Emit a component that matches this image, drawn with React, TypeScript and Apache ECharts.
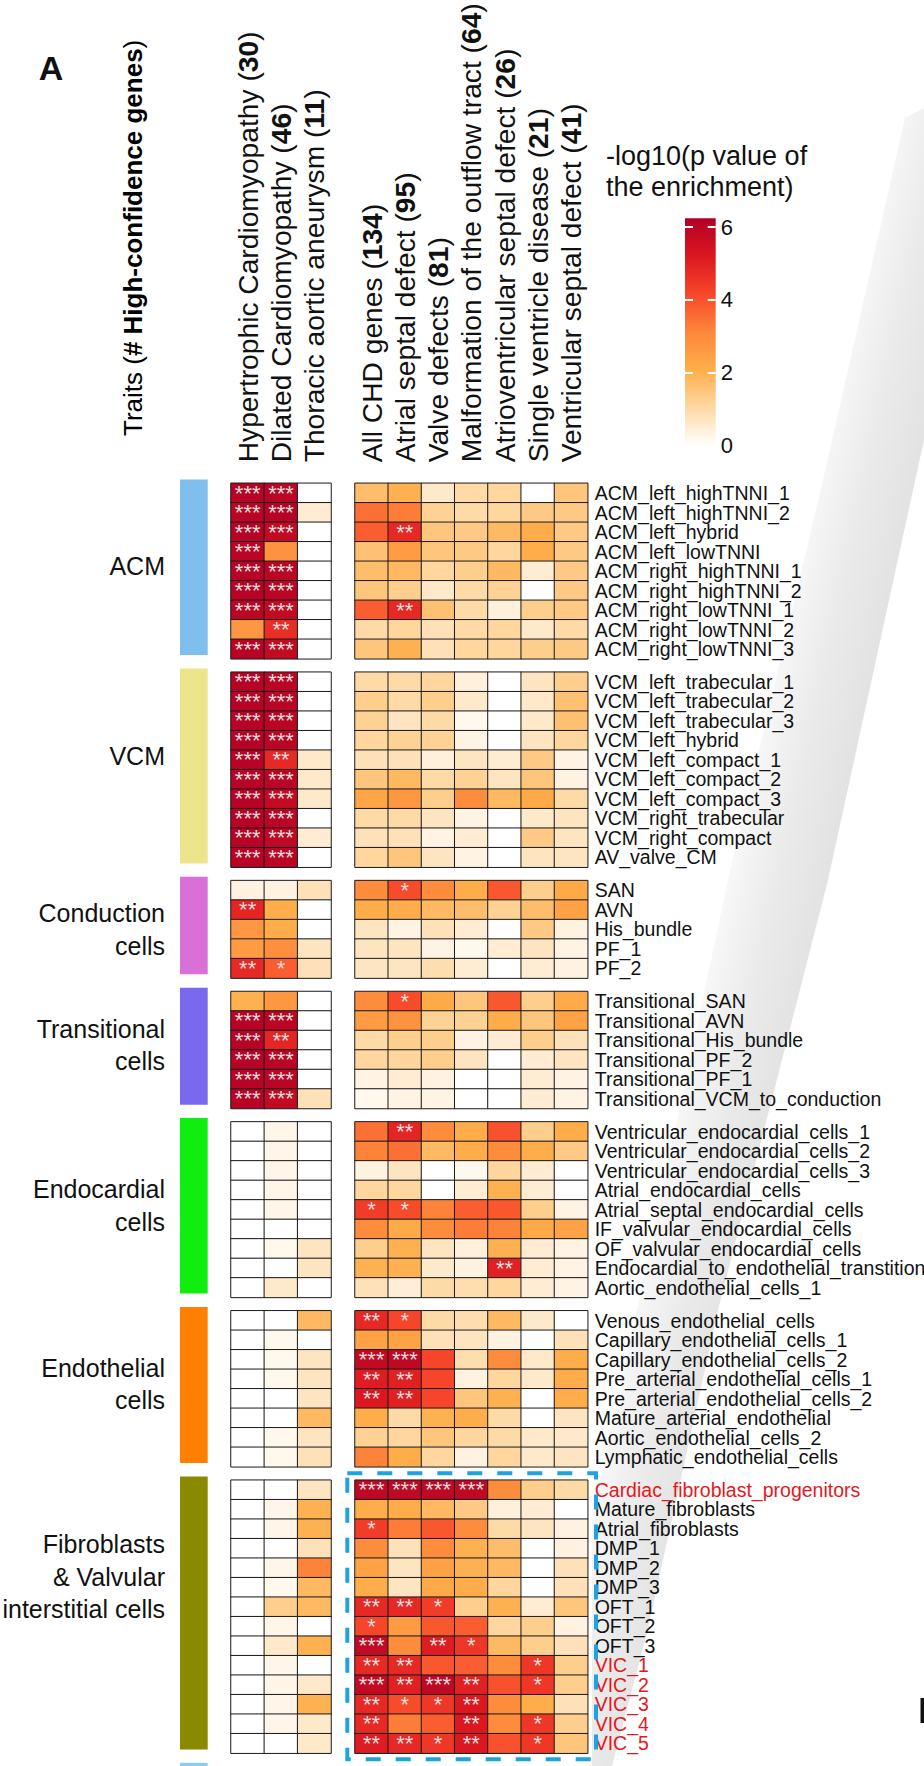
import React, { useEffect, useRef } from 'react';
import * as echarts from 'echarts';

const FONT = '"Liberation Sans", Arial, Helvetica, sans-serif';
const RED = '#e3191c';

// Column traits with number of high-confidence genes
const leftTraits = ['Hypertrophic Cardiomyopathy', 'Dilated Cardiomyopathy', 'Thoracic aortic aneurysm'];
const leftGeneCounts = [30, 46, 11];
const rightTraits = [
  'All CHD genes',
  'Atrial septal defect',
  'Valve defects',
  'Malformation of the outflow tract',
  'Atrioventricular septal defect',
  'Single ventricle disease',
  'Ventricular septal defect',
];
const rightGeneCounts = [134, 95, 81, 64, 26, 21, 41];

// Colour scale of -log10(p)
const scaleMax = 6.24;
const scaleTicks = [0, 2, 4, 6];
const palette = ['#ffffff', '#fed8a3', '#feae4a', '#fd873b', '#f7472a', '#dc1720', '#b10026'];

// Values per row: 3 left traits then 7 CHD traits. Stars: significance per column.
const acmRows = [
  'ACM_left_highTNNI_1', 'ACM_left_highTNNI_2', 'ACM_left_hybrid', 'ACM_left_lowTNNI',
  'ACM_right_highTNNI_1', 'ACM_right_highTNNI_2', 'ACM_right_lowTNNI_1', 'ACM_right_lowTNNI_2', 'ACM_right_lowTNNI_3',
];
const acmValues = [
  [6.1, 6.0, 0, 1.7, 2.0, 0.6, 1.0, 1.1, 0, 1.5],
  [6.0, 6.1, 0.5, 3.5, 3.3, 1.2, 1.0, 1.1, 1.4, 1.4],
  [6.1, 5.8, 0, 3.8, 4.8, 1.5, 1.4, 1.8, 2.1, 1.4],
  [6.0, 2.8, 0, 1.6, 2.6, 1.5, 1.4, 1.1, 2.1, 1.4],
  [6.1, 6.0, 0, 1.7, 1.8, 1.1, 1.3, 1.8, 0.5, 1.4],
  [6.1, 6.0, 0, 1.5, 1.3, 0.6, 1.0, 1.2, 0, 1.4],
  [6.0, 5.8, 0, 3.8, 4.8, 1.6, 1.0, 0.4, 1.3, 1.4],
  [2.7, 4.7, 0, 1.0, 1.1, 0.8, 1.0, 1.1, 0.6, 1.0],
  [6.1, 5.8, 0, 1.5, 2.0, 0.8, 1.1, 1.1, 1.3, 1.4],
];
const acmStars = ['3300000000', '3300000000', '3300200000', '3000000000', '3300000000', '3300000000', '3300200000', '0200000000', '3300000000'];

const vcmRows = [
  'VCM_left_trabecular_1', 'VCM_left_trabecular_2', 'VCM_left_trabecular_3', 'VCM_left_hybrid',
  'VCM_left_compact_1', 'VCM_left_compact_2', 'VCM_left_compact_3', 'VCM_right_trabecular', 'VCM_right_compact', 'AV_valve_CM',
];
const vcmValues = [
  [6.1, 6.0, 0, 1.0, 1.0, 1.1, 0.4, 0, 0.7, 1.3],
  [6.1, 6.0, 0, 1.3, 1.0, 1.3, 0.6, 0, 0.6, 1.6],
  [6.1, 6.0, 0, 1.2, 0.7, 1.0, 0.2, 0, 0.6, 1.6],
  [6.1, 6.0, 0, 1.1, 1.2, 1.2, 0.3, 0, 0.7, 1.1],
  [6.1, 4.8, 0.6, 0.8, 0.8, 0.4, 0.7, 0.5, 1.4, 0.3],
  [6.1, 6.0, 0.6, 1.5, 1.8, 1.0, 1.2, 0.7, 1.5, 0.35],
  [6.1, 5.8, 0.6, 2.3, 2.7, 1.3, 3.0, 1.8, 2.2, 1.0],
  [6.1, 6.0, 0, 1.0, 1.0, 0.7, 0.3, 0, 0.6, 0.7],
  [6.1, 5.9, 0.5, 0.8, 0.8, 0.3, 0.5, 0, 1.4, 0.7],
  [6.1, 6.0, 0, 1.1, 1.5, 0.7, 0.3, 0, 0.7, 0.7],
];
const vcmStars = ['3300000000', '3300000000', '3300000000', '3300000000', '3200000000', '3300000000', '3300000000', '3300000000', '3300000000', '3300000000'];

const conductionRows = ['SAN', 'AVN', 'His_bundle', 'PF_1', 'PF_2'];
const conductionValues = [
  [0.35, 0.35, 0.8, 3.0, 4.1, 3.0, 2.1, 3.9, 1.3, 2.2],
  [4.9, 2.1, 0, 2.1, 2.1, 1.8, 1.7, 1.2, 1.7, 2.4],
  [2.7, 2.1, 0, 0.7, 0.3, 0.8, 0.5, 0, 1.4, 0.35],
  [2.6, 2.9, 0.7, 0.7, 0.7, 0.3, 0.2, 0.5, 0.7, 0.3],
  [4.8, 3.8, 0.8, 0.7, 0.7, 0.9, 0.5, 0, 0.5, 0.35],
];
const conductionStars = ['0000100000', '2000000000', '0000000000', '0000000000', '2100000000'];

const transitionalRows = [
  'Transitional_SAN', 'Transitional_AVN', 'Transitional_His_bundle', 'Transitional_PF_2', 'Transitional_PF_1', 'Transitional_VCM_to_conduction',
];
const transitionalValues = [
  [2.0, 2.7, 0, 3.0, 4.1, 2.2, 1.5, 3.9, 1.3, 2.2],
  [6.1, 6.0, 0, 2.6, 2.8, 1.2, 1.2, 2.1, 1.5, 2.4],
  [6.1, 4.9, 0, 1.0, 1.3, 1.3, 0.3, 0.5, 1.3, 0.8],
  [6.1, 6.0, 0, 1.1, 1.1, 1.3, 0.7, 0, 0.5, 0.7],
  [6.1, 6.0, 0, 0.3, 0.5, 0.35, 0, 0, 0.5, 0.3],
  [6.1, 5.8, 0.8, 0.2, 0.3, 0.3, 0, 0, 0.5, 0.3],
];
const transitionalStars = ['0000100000', '3300000000', '3200000000', '3300000000', '3300000000', '3300000000'];

const endocardialRows = [
  'Ventricular_endocardial_cells_1', 'Ventricular_endocardial_cells_2', 'Ventricular_endocardial_cells_3',
  'Atrial_endocardial_cells', 'Atrial_septal_endocardial_cells', 'IF_valvular_endocardial_cells',
  'OF_valvular_endocardial_cells', 'Endocardial_to_endothelial_transtition', 'Aortic_endothelial_cells_1',
];
const endocardialValues = [
  [0, 0.25, 0, 3.5, 4.9, 3.0, 2.1, 4.0, 1.3, 2.1],
  [0, 0.25, 0, 3.2, 3.5, 1.8, 2.1, 3.0, 2.1, 1.4],
  [0, 0.25, 0, 0.35, 0.7, 0, 0.2, 1.1, 0.5, 0],
  [0, 0.25, 0, 1.1, 1.1, 0, 0.5, 2.0, 0.5, 0],
  [0, 0.25, 0, 4.4, 4.1, 3.2, 3.8, 3.9, 1.3, 0.3],
  [0, 0, 0, 3.0, 2.2, 3.0, 3.3, 3.2, 2.2, 2.4],
  [0, 0.2, 0.7, 1.3, 2.0, 0.7, 0.4, 2.0, 0.5, 0.3],
  [0, 0, 0.7, 2.0, 2.0, 0.6, 0.35, 5.0, 0.5, 0.3],
  [0, 0.6, 0, 0.8, 0.45, 1.0, 0.9, 1.1, 0.5, 0.3],
];
const endocardialStars = ['0000200000', '0000000000', '0000000000', '0000000000', '0001100000', '0000000000', '0000000000', '0000000200', '0000000000'];

const endothelialRows = [
  'Venous_endothelial_cells', 'Capillary_endothelial_cells_1', 'Capillary_endothelial_cells_2',
  'Pre_arterial_endothelial_cells_1', 'Pre_arterial_endothelial_cells_2', 'Mature_arterial_endothelial',
  'Aortic_endothelial_cells_2', 'Lymphatic_endothelial_cells',
];
const endothelialValues = [
  [0, 0, 1.8, 4.8, 4.2, 1.0, 0.9, 1.8, 0.6, 0],
  [0, 0.2, 0, 2.4, 2.4, 0.8, 0.7, 0.35, 0, 0.8],
  [0, 0.2, 0.7, 5.8, 5.9, 4.2, 0.9, 3.0, 0.6, 2.1],
  [0, 0.2, 0.7, 5.1, 5.0, 4.2, 0.35, 1.1, 0.6, 2.1],
  [0, 0, 0.7, 5.2, 5.0, 4.2, 1.5, 2.0, 0, 2.1],
  [0, 0, 1.8, 2.1, 1.0, 2.0, 2.1, 1.0, 0, 0.7],
  [0, 0.2, 0.7, 1.2, 1.1, 1.5, 1.1, 1.0, 0.6, 0.6],
  [0, 0.2, 0.8, 3.2, 2.1, 1.1, 0.35, 1.1, 0.6, 0.7],
];
const endothelialStars = ['0002100000', '0000000000', '0003300000', '0002200000', '0002200000', '0000000000', '0000000000', '0000000000'];

const fibroblastRows = [
  'Cardiac_fibroblast_progenitors', 'Mature_fibroblasts', 'Atrial_fibroblasts', 'DMP_1', 'DMP_2', 'DMP_3',
  'OFT_1', 'OFT_2', 'OFT_3', 'VIC_1', 'VIC_2', 'VIC_3', 'VIC_4', 'VIC_5',
];
const fibroblastValues = [
  [0, 0, 0.7, 5.9, 5.9, 5.9, 5.9, 3.0, 1.3, 1.0],
  [0, 0.25, 2.0, 2.1, 2.1, 1.8, 1.4, 0.4, 0.5, 0],
  [0, 0.25, 2.0, 4.4, 3.3, 3.9, 3.0, 1.0, 0.7, 0.35],
  [0, 0, 0.8, 3.0, 0.8, 3.0, 2.0, 1.7, 0, 0.35],
  [0, 0.25, 3.2, 2.4, 0.7, 2.4, 2.0, 1.8, 0, 0.8],
  [0, 0.2, 1.8, 2.1, 0.7, 2.2, 2.1, 1.1, 0, 0.8],
  [0, 1.3, 1.8, 4.8, 4.8, 4.4, 1.3, 2.0, 0.5, 1.5],
  [0, 0.25, 0, 4.2, 2.6, 3.9, 3.8, 1.1, 1.3, 0.35],
  [0, 0.6, 2.0, 5.8, 3.0, 5.1, 4.5, 1.8, 1.3, 0.8],
  [0, 0.25, 0, 4.8, 4.8, 3.9, 3.8, 3.0, 4.5, 1.3],
  [0, 0.25, 0.6, 5.8, 5.0, 5.9, 5.0, 4.0, 4.5, 1.3],
  [0, 0.25, 2.0, 4.8, 4.1, 4.5, 5.2, 3.0, 2.1, 0.8],
  [0, 0.25, 0.6, 4.8, 3.3, 3.8, 5.2, 3.0, 4.5, 1.3],
  [0, 0, 0.6, 5.1, 4.8, 4.5, 5.2, 4.0, 4.5, 1.5],
];
const fibroblastStars = [
  '0003333000', '0000000000', '0001000000', '0000000000', '0000000000', '0000000000', '0002210000',
  '0001000000', '0003021000', '0002200010', '0003232010', '0002112000', '0002002010', '0002212010',
];

const highlightedRows = ['Cardiac_fibroblast_progenitors', 'VIC_1', 'VIC_2', 'VIC_3', 'VIC_4', 'VIC_5'];

const groups = [
  { label: 'ACM', color: '#7fbfee', rows: acmRows, values: acmValues, stars: acmStars },
  { label: 'VCM', color: '#ece58c', rows: vcmRows, values: vcmValues, stars: vcmStars },
  { label: 'Conduction\ncells', color: '#d870d8', rows: conductionRows, values: conductionValues, stars: conductionStars },
  { label: 'Transitional\ncells', color: '#7a69ee', rows: transitionalRows, values: transitionalValues, stars: transitionalStars },
  { label: 'Endocardial\ncells', color: '#10ee10', rows: endocardialRows, values: endocardialValues, stars: endocardialStars },
  { label: 'Endothelial\ncells', color: '#ff8000', rows: endothelialRows, values: endothelialValues, stars: endothelialStars },
  { label: 'Fibroblasts\n& Valvular\ninterstitial cells', color: '#8a8a00', rows: fibroblastRows, values: fibroblastValues, stars: fibroblastStars },
];

// Layout (px)
const TOP0 = 483.3;
const ROW_H = 19.5;
const GROUP_GAP = 13.4;
const LEFT_X = 231;
const LEFT_W = 100;
const RIGHT_X = 355;
const RIGHT_W = 232.7;
const BAR_X = 180;
const BAR_W = 27.7;
const BAR_SHIFT = -3.8;
const GROUP_LABEL_X = 165;
const groupLabelOffsets = [-5, -14, 0, -5, -4, -5, -40];
const CB = { x: 685, y: 218.3, w: 30.7, h: 227.1 };
const HEADER_FONT = 28.2;

export default function App() {
  const ref = useRef<HTMLDivElement>(null);

  useEffect(() => {
    const el = ref.current;
    if (!el) return;
    const chart = echarts.init(el, null, { renderer: 'svg', width: 924, height: 1766 });

    const grids: any[] = [];
    const xAxes: any[] = [];
    const yAxes: any[] = [];
    const series: any[] = [];
    const elements: any[] = [];

    const tops: number[] = [];
    let yCur = TOP0;
    groups.forEach((g) => {
      tops.push(yCur);
      yCur += g.rows.length * ROW_H + GROUP_GAP;
    });

    const headerRich = {
      t: { fontSize: HEADER_FONT, fontFamily: FONT, color: '#111' },
      b: { fontSize: HEADER_FONT, fontFamily: FONT, color: '#111', fontWeight: 'bold' },
    };
    const traitsRich = {
      t: { fontSize: 26, fontFamily: FONT, color: '#111' },
      b: { fontSize: 26, fontFamily: FONT, color: '#111', fontWeight: 'bold' },
    };

    groups.forEach((g, gi) => {
      const h = g.rows.length * ROW_H;
      [0, 1].forEach((block) => {
        const idx = grids.length;
        const cols = block === 0 ? [0, 1, 2] : [3, 4, 5, 6, 7, 8, 9];
        const names = block === 0 ? leftTraits : rightTraits;
        const counts = block === 0 ? leftGeneCounts : rightGeneCounts;
        grids.push({
          left: block === 0 ? LEFT_X : RIGHT_X,
          top: tops[gi],
          width: block === 0 ? LEFT_W : RIGHT_W,
          height: h,
          containLabel: false,
          outerBoundsMode: 'none',
        });
        xAxes.push({
          type: 'category',
          gridIndex: idx,
          position: 'top',
          data: names,
          axisLine: { show: false },
          axisTick: { show: false },
          splitLine: { show: false },
          axisLabel: {
            show: gi === 0,
            interval: 0,
            rotate: -90,
            margin: 21,
            fontSize: HEADER_FONT,
            fontFamily: FONT,
            color: '#111',
            formatter: (v: string, i: number) => `{t|${v} (}{b|${counts[i]}}{t|)}`,
            rich: headerRich,
          },
        });
        yAxes.push({
          type: 'category',
          gridIndex: idx,
          inverse: true,
          position: 'right',
          data: g.rows.map((r) => (highlightedRows.includes(r) ? { value: r, textStyle: { color: RED } } : r)),
          axisLine: { show: false },
          axisTick: { show: false },
          splitLine: { show: false },
          axisLabel: {
            show: block === 1,
            interval: 0,
            margin: 7,
            fontSize: 19.5,
            fontFamily: FONT,
            color: '#111',
          },
        });
        const data: any[] = [];
        g.values.forEach((row, r) => {
          cols.forEach((c, ci) => {
            data.push([ci, r, row[c], Number(g.stars[r][c])]);
          });
        });
        series.push({
          type: 'heatmap',
          xAxisIndex: idx,
          yAxisIndex: idx,
          data,
          itemStyle: { borderColor: '#1a1a1a', borderWidth: 1 },
          emphasis: { disabled: true },
          label: {
            show: true,
            fontSize: 22,
            fontFamily: FONT,
            color: '#dcdcdc',
            formatter: (p: any) => '*'.repeat(p.data[3]),
          },
        });
      });

      // group colour bar and name
      elements.push({
        type: 'rect',
        shape: { x: BAR_X, y: tops[gi] + BAR_SHIFT, width: BAR_W, height: h },
        style: { fill: g.color },
      });
      elements.push({
        type: 'text',
        x: GROUP_LABEL_X,
        y: tops[gi] + h / 2 + groupLabelOffsets[gi],
        style: {
          text: g.label,
          align: 'right',
          verticalAlign: 'middle',
          fontSize: 25,
          lineHeight: 32.5,
          fontFamily: FONT,
          fill: '#111',
        },
      });
    });

    // next group's bar, cut by the page edge
    elements.push({
      type: 'rect',
      shape: { x: BAR_X, y: yCur + BAR_SHIFT, width: BAR_W, height: 6 },
      style: { fill: '#87cdf5' },
    });

    // colour bar axis: white dashed split lines mark the ticks
    const cbIdx = grids.length;
    grids.push({ left: CB.x, top: CB.y, width: CB.w, height: CB.h, containLabel: false, outerBoundsMode: 'none' });
    xAxes.push({ type: 'value', gridIndex: cbIdx, show: false, min: 0, max: 1 });
    yAxes.push({
      type: 'value',
      gridIndex: cbIdx,
      position: 'right',
      min: 0,
      max: scaleMax,
      interval: 2,
      z: 5,
      axisLine: { show: false },
      axisTick: { show: false, customValues: [2, 4, 6] },
      splitLine: { show: true, lineStyle: { color: '#ffffff', width: 2, type: [8, 14.7] } },
      axisLabel: { show: true, margin: 5, fontSize: 22, fontFamily: FONT, color: '#111', customValues: scaleTicks },
    });

    elements.push({
      type: 'rect',
      z: 1,
      shape: { x: CB.x, y: CB.y, width: CB.w, height: CB.h },
      style: {
        fill: new echarts.graphic.LinearGradient(
          0, 1, 0, 0,
          palette.map((c, i) => ({ offset: i / (palette.length - 1), color: c }))
        ),
      },
    });

    // shaded wedge in the background
    elements.push({
      type: 'polygon',
      z: -5,
      shape: {
        points: [
          [905, 118], [924, 108], [924, 440], [828, 880], [718, 1310], [647, 1633], [612, 1766],
          [592, 1766], [592, 1514], [637, 1310], [728, 880], [823, 480],
        ],
      },
      style: {
        fill: new echarts.graphic.LinearGradient(
          700, 1000, 800, 1022,
          [
            { offset: 0, color: '#f8f8f8' },
            { offset: 0.5, color: '#eaeaea' },
            { offset: 1, color: '#e2e2e2' },
          ],
          true
        ),
      },
    });

    elements.push({ type: 'rect', shape: { x: 920.5, y: 1698, width: 3.5, height: 25 }, style: { fill: '#111' } });

    // highlight box around fibroblast / VIC enrichment
    elements.push({
      type: 'rect',
      z: 10,
      shape: { x: 347.3, y: 1473.3, width: 248.7, height: 286 },
      style: { fill: 'none', stroke: '#1ea3e0', lineWidth: 4, lineDash: [15, 15] },
    });

    elements.push({
      type: 'text',
      x: 51,
      y: 68,
      style: { text: 'A', fontSize: 34, fontWeight: 'bold', fontFamily: FONT, fill: '#111', align: 'center', verticalAlign: 'middle' },
    });
    elements.push({
      type: 'text',
      x: 133,
      y: 436,
      rotation: Math.PI / 2,
      style: {
        text: '{t|Traits (}{b|# High-confidence genes}{t|)}',
        rich: traitsRich,
        fontSize: 26,
        fontFamily: FONT,
        align: 'left',
        verticalAlign: 'middle',
      },
    });
    elements.push({
      type: 'text',
      x: 606,
      y: 140.5,
      style: {
        text: '-log10(p value of\nthe enrichment)',
        fontSize: 27,
        lineHeight: 31,
        fontFamily: FONT,
        fill: '#111',
        align: 'left',
        verticalAlign: 'top',
      },
    });

    chart.setOption({
      animation: false,
      backgroundColor: '#ffffff',
      textStyle: { fontFamily: FONT },
      grid: grids,
      xAxis: xAxes,
      yAxis: yAxes,
      visualMap: {
        type: 'continuous',
        show: false,
        min: 0,
        max: scaleMax,
        dimension: 2,
        seriesIndex: series.map((_, i) => i),
        inRange: { color: palette },
      },
      series,
      graphic: { elements },
    });

    return () => {
      chart.dispose();
    };
  }, []);

  return (
    <div
      ref={ref}
      style={{ position: 'absolute', left: 0, top: 0, width: 924, height: 1766, background: '#fff' }}
    />
  );
}
